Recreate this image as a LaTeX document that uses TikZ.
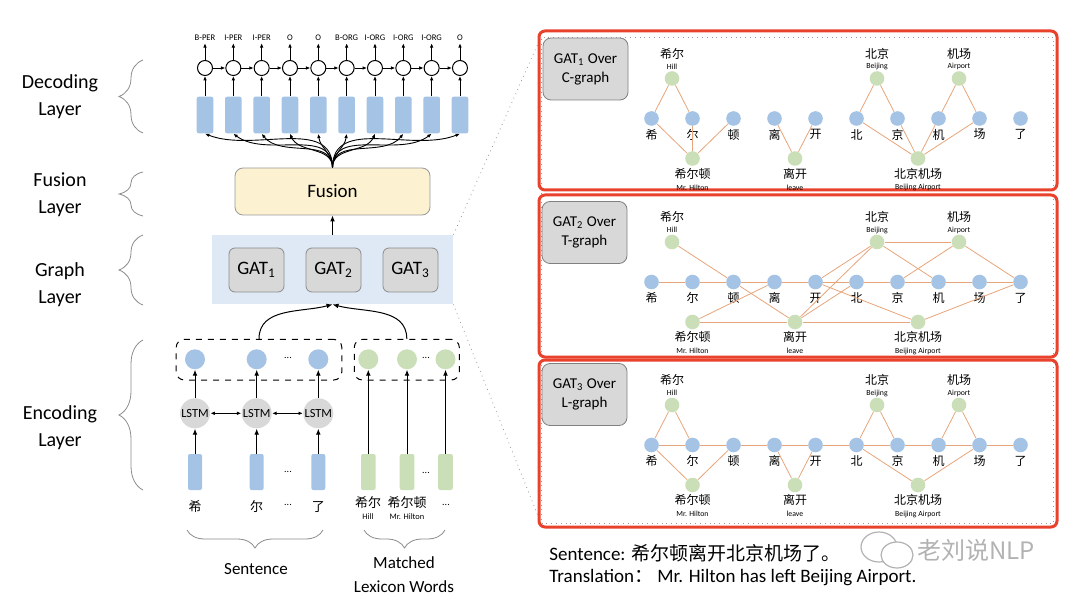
\documentclass[tikz,border=0pt]{standalone}
\usepackage{fontspec}
\setmainfont{Carlito}
\newfontfamily\cjk{Noto Sans CJK SC}
\usetikzlibrary{arrows.meta, positioning, calc, decorations.pathreplacing}
\newcommand\fsz[2]{\fontsize{#1}{#2}\selectfont}
\definecolor{barblue}{RGB}{165,195,228}
\definecolor{leafgreen}{RGB}{202,223,184}
\definecolor{gatgray}{RGB}{216,216,216}
\definecolor{graphbg}{RGB}{222,233,245}
\definecolor{fusionyel}{RGB}{252,241,208}
\definecolor{edgeorange}{RGB}{230,165,122}
\definecolor{panelred}{RGB}{233,66,44}
\tikzset{
  arr/.style={-{Latex[length=3pt, width=2.4pt]}, line width=0.5pt},
  sarr/.style={-{Latex[length=2.2pt, width=1.8pt]}, line width=0.45pt},
  darr/.style={{Latex[length=2.2pt, width=1.8pt]}-{Latex[length=2.2pt, width=1.8pt]}, line width=0.45pt},
  vbar/.style={fill=#1, rounded corners=1pt, minimum width=8.3pt, minimum height=18.3pt, inner sep=0pt},
  dec/.style={circle, draw, fill=white, line width=0.5pt, minimum size=7.5pt, inner sep=0pt},
  tag/.style={font=\fsz{4.3}{5}, inner sep=1pt},
  brc/.style={decorate, decoration={brace, amplitude=#1}, draw=black!45, line width=0.4pt},
  lay/.style={font=\fsz{10}{13.5}, align=center},
  fusbox/.style={draw=black!40, fill=fusionyel, rounded corners=4pt, minimum width=97.5pt, minimum height=23.5pt, font=\fsz{9.5}{10}},
  glayer/.style={fill=graphbg, minimum width=120.5pt, minimum height=34.5pt, inner sep=0pt},
  gat/.style={draw=black!45, fill=gatgray, rounded corners=3pt, minimum width=27.5pt, minimum height=22pt, font=\fsz{9.5}{10}},
  grp/.style={draw, dashed, rounded corners=4pt, line width=0.5pt, minimum height=20.3pt, inner sep=0pt},
  hbl/.style={circle, fill=barblue, minimum size=10pt, inner sep=0pt},
  hgr/.style={circle, fill=leafgreen, minimum size=10pt, inner sep=0pt},
  lstm/.style={circle, fill=gatgray, minimum size=15pt, inner sep=0pt, font=\fsz{6.2}{7}},
  dots/.style={font=\fsz{5}{6}, inner sep=0pt},
  zhl/.style={font=\cjk\fsz{6.5}{7}, inner sep=0pt},
  enl/.style={font=\fsz{4.2}{5}, inner sep=0pt},
  capt/.style={font=\fsz{8.5}{12}, align=center},
  zwin/.style={draw=black!40, dotted, line width=0.4pt, minimum width=256pt, minimum height=243pt, inner sep=0pt},
  zline/.style={draw=black!40, dotted, line width=0.4pt},
  panel/.style={draw=panelred, line width=1.5pt, rounded corners=3pt, minimum width=259pt, inner sep=0pt},
  plabel/.style={draw=black!50, fill=gatgray, rounded corners=4pt, minimum width=42.5pt, minimum height=31pt, align=center, font=\fsz{7.5}{9.5}},
  cnode/.style={circle, fill=barblue, minimum size=7.3pt, inner sep=0pt},
  wnode/.style={circle, fill=leafgreen, minimum size=7.3pt, inner sep=0pt},
  zhs/.style={font=\cjk\fsz{6}{6}, inner sep=0pt},
  ens/.style={font=\fsz{3.9}{4}, inner sep=0pt},
  gedge/.style={draw=edgeorange, line width=0.4pt},
  btxt/.style={font=\fsz{9.5}{10}, inner sep=0pt},
}

\begin{document}
\begin{tikzpicture}[x=0.5pt, y=-0.5pt]
\useasboundingbox (0,0) rectangle (1080,598);

% layer names and braces
\node[lay] (ldec) at (60,97) {Decoding\\Layer};
\node[lay] (lfus) at (60,194.5) {Fusion\\Layer};
\node[lay] (lgra) at (60,285) {Graph\\Layer};
\node[lay] (lenc) at (60,428) {Encoding\\Layer};
\draw[brc=12pt] (143,133) -- (143,60);
\draw[brc=12pt] (143,216) -- (143,172);
\draw[brc=12pt] (143,305) -- (143,235);
\draw[brc=12pt] (143,490) -- (143,340);

% decoding layer
\foreach \t [count=\i from 0] in {B-PER,I-PER,I-PER,O,O,B-ORG,I-ORG,I-ORG,I-ORG,O} {
  \node[tag] (t\i) at ({205+28.33*\i},38) {\t};
  \node[dec] (d\i) at ({205+28.33*\i},68) {};
  \node[vbar=barblue] (b\i) at ({205+28.33*\i},115) {};
  \draw[sarr] (d\i) -- (t\i);
  \draw[sarr] (b\i) -- (d\i);
}
\foreach \i/\j in {0/1,1/2,2/3,3/4,4/5,5/6,6/7,7/8,8/9}
  \draw[sarr] (d\i) -- (d\j);

% fusion layer
\node[fusbox] (fus) at (332.5,191.5) {Fusion};
\foreach \i in {0,...,9} {
  \pgfmathsetmacro\ang{-90-0.535*(205+28.33*\i-332.5)}
  \draw[sarr] (fus.north) to[out=90, in=\ang] (b\i.south);
}

% graph layer
\node[glayer] (glay) at (332.5,269.5) {};
\node[gat] (g1) at (256.5,270) {GAT\textsubscript{1}};
\node[gat] (g2) at (333.5,270) {GAT\textsubscript{2}};
\node[gat] (g3) at (410.5,270) {GAT\textsubscript{3}};
\draw[arr] (glay) -- (fus);

% encoding layer
\node[grp, minimum width=82.8pt] (lg) at (259,359.7) {};
\node[grp, minimum width=52.5pt] (rg) at (406.8,359.7) {};
\foreach \x [count=\i] in {195,256.7,318.3} {
  \node[hbl] (h\i) at (\x,359.3) {};
  \node[lstm] (m\i) at (\x,413.3) {LSTM};
  \node[vbar=barblue, minimum width=7pt, minimum height=18pt] (e\i) at (\x,472) {};
  \draw[arr] (e\i) -- (m\i);
  \draw[arr] (m\i) -- (h\i);
}
\foreach \x [count=\i] in {368.3,407,445.5} {
  \node[hgr] (k\i) at (\x,359.3) {};
  \node[vbar=leafgreen, minimum width=7.3pt, minimum height=18pt] (f\i) at (\x,472) {};
  \draw[arr] (f\i) -- (k\i);
}
\draw[darr] (m1) -- (m2);
\draw[darr] (m2) -- (m3);
\node[dots] (o1) at (288,358) {...};
\node[dots] (o2) at (426,358) {...};
\node[dots] (o3) at (288,472) {...};
\node[dots] (o4) at (426,473) {...};
\node[dots] (o5) at (288,505) {...};
\node[dots] (o6) at (446,505) {...};
\node[zhl] (s1) at (195,507) {希};
\node[zhl] (s2) at (256.7,507) {尔};
\node[zhl] (s3) at (318.3,507) {了};
\node[zhl] (w1) at (368,503) {希尔};
\node[enl] (v1) at (368,517) {Hill};
\node[zhl] (w2) at (407,503) {希尔顿};
\node[enl] (v2) at (407,517) {Mr. Hilton};
\draw[arr] (lg.north) to[out=90, in=195] (glay.south);
\draw[arr] (rg.north) to[out=90, in=-15] (glay.south);
\draw[brc=9pt] (323,530) -- (187,530);
\draw[brc=9pt] (445,530) -- (364,530);
\node[capt] (csen) at (256,569) {Sentence};
\node[capt] (clex) at (404,575) {Matched\\Lexicon Words};

% zoomed window
\node[zwin] (zw) at (797.5,280) {};
\draw[zline] (glay.north east) -- (zw.north west);
\draw[zline] (glay.south east) -- (zw.south west);

% three graphs
\node[panel, minimum height=79.5pt] (pan1) at (798,110.5) {};
\node[panel, minimum height=81pt] (pan2) at (798,276) {};
\node[panel, minimum height=83.5pt] (pan3) at (798,443.5) {};
\node[plabel] (q1) at (585.5,69) {GAT\textsubscript{1} Over\\C-graph};
\node[plabel] (q2) at (584.5,232.5) {GAT\textsubscript{2} Over\\T-graph};
\node[plabel] (q3) at (584.5,394.5) {GAT\textsubscript{3} Over\\L-graph};

\foreach \p/\yb in {1/118.5,2/282,3/445} {
  \foreach \z [count=\i from 0] in {希,尔,顿,离,开,北,京,机,场,了} {
    \node[cnode] (p\p c\i) at ({651.5+41*\i},\yb) {};
    \node[zhs] at ({651.5+41*\i},\yb+16) {\z};
  }
  \foreach \w/\x/\zh/\en in {hl/672/希尔/Hill, bj/877/北京/Beijing, ap/959/机场/Airport} {
    \node[wnode] (p\p\w) at (\x,\yb-40) {};
    \node[zhs] at (\x,\yb-65) {\zh};
    \node[ens] at (\x,\yb-52) {\en};
  }
  \foreach \w/\x/\zh/\en in {hn/692.5/希尔顿/Mr. Hilton, lv/795/离开/leave, ba/918/北京机场/Beijing Airport} {
    \node[wnode] (p\p\w) at (\x,\yb+40) {};
    \node[zhs] at (\x,\yb+55) {\zh};
    \node[ens] at (\x,\yb+69) {\en};
  }
}
% C-graph
\foreach \a/\b in {hl/c0, hl/c1, hn/c0, hn/c1, hn/c2, lv/c3, lv/c4, bj/c5, bj/c6,
    ap/c7, ap/c8, ba/c5, ba/c6, ba/c7, ba/c8}
  \draw[gedge] (p1\a) -- (p1\b);
% T-graph
\foreach \a/\b in {hl/c2, hn/c3, hn/lv, c2/lv, lv/c5, lv/bj, lv/ba, c4/bj, c4/ba,
    bj/c7, bj/ap, c6/ap, ap/c9, ba/c9, c0/c1, c1/c2, c2/c3, c3/c4, c4/c5, c5/c6,
    c6/c7, c7/c8, c8/c9}
  \draw[gedge] (p2\a) -- (p2\b);
% L-graph
\foreach \a/\b in {hl/c0, hl/c1, hn/c0, hn/c2, lv/c3, lv/c4, bj/c5, bj/c6,
    ap/c7, ap/c8, ba/c5, ba/c8, c0/c1, c1/c2, c2/c3, c3/c4, c4/c5, c5/c6,
    c6/c7, c7/c8, c8/c9}
  \draw[gedge] (p3\a) -- (p3\b);

% example sentence
\node[btxt, anchor=west] (sen) at (549,553) {Sentence: {\cjk 希尔顿离开北京机场了。}};
\node[btxt, anchor=west] (tra) at (549,578) {Translation{\cjk ：} Mr. Hilton has left Beijing Airport.};
\draw[black!30, line width=0.6pt] (879,547) ellipse (9pt and 7.5pt);
\draw[black!30, line width=0.6pt, fill=white] (897,555) ellipse (8pt and 6.5pt);
\node[font=\cjk\fsz{12}{12}, text=black!30] (wmk) at (976,550) {老刘说NLP};
\end{tikzpicture}
\end{document}
